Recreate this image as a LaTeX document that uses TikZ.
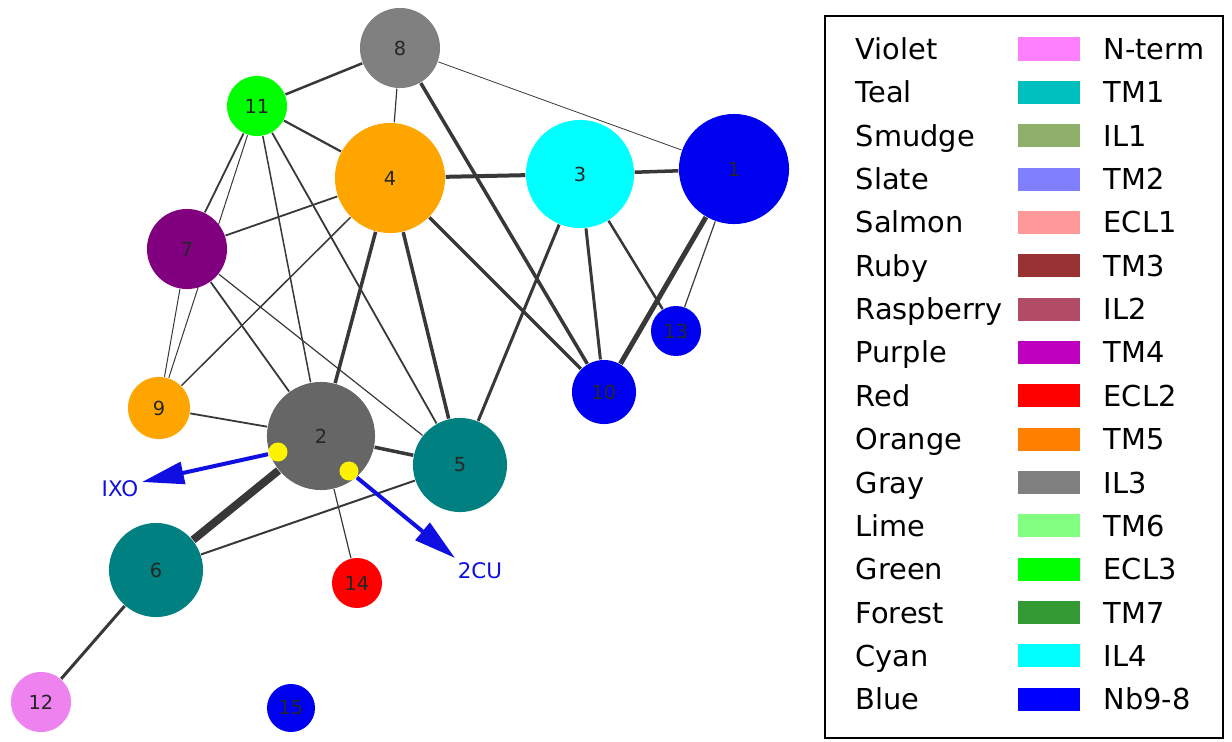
\documentclass[tikz,border=0pt]{standalone}
\usepackage{fontspec}
\setmainfont{DejaVu Sans}
\usetikzlibrary{arrows.meta,backgrounds}

% node colours
\definecolor{ndblue}{RGB}{0,0,240}
\definecolor{ndcyan}{RGB}{0,255,255}
\definecolor{ndorange}{RGB}{255,165,0}
\definecolor{ndteal}{RGB}{0,128,128}
\definecolor{ndpurple}{RGB}{128,0,128}
\definecolor{ndgray}{RGB}{128,128,128}
\definecolor{nddark}{RGB}{102,102,102}
\definecolor{ndlime}{RGB}{0,255,0}
\definecolor{ndred}{RGB}{255,0,0}
\definecolor{ndviolet}{RGB}{238,130,238}
\definecolor{cublue}{RGB}{15,15,225}
% legend colours
\definecolor{lgViolet}{RGB}{255,128,255}
\definecolor{lgTeal}{RGB}{0,191,191}
\definecolor{lgSmudge}{RGB}{142,176,106}
\definecolor{lgSlate}{RGB}{128,128,255}
\definecolor{lgSalmon}{RGB}{255,153,153}
\definecolor{lgRuby}{RGB}{153,51,51}
\definecolor{lgRaspberry}{RGB}{178,76,102}
\definecolor{lgPurple}{RGB}{191,0,191}
\definecolor{lgRed}{RGB}{255,0,0}
\definecolor{lgOrange}{RGB}{255,128,0}
\definecolor{lgGray}{RGB}{128,128,128}
\definecolor{lgLime}{RGB}{128,255,128}
\definecolor{lgGreen}{RGB}{0,255,0}
\definecolor{lgForest}{RGB}{51,153,51}
\definecolor{lgCyan}{RGB}{0,255,255}
\definecolor{lgBlue}{RGB}{0,0,255}

\tikzset{
  res/.style={circle, inner sep=0pt, text=black!85, font=\fontsize{5.5}{6.5}\selectfont},
  link/.style={draw=black!78},
  site/.style={circle, fill=yellow, inner sep=0pt, minimum size=0.19cm},
  pointer/.style={draw=cublue, line width=0.04cm, -{Triangle[length=0.42cm,width=0.22cm]}},
  ligand/.style={text=cublue, inner sep=0pt, font=\fontsize{6.1}{7}\selectfont},
  swatch/.style={minimum width=0.62cm, minimum height=0.23cm, inner sep=0pt},
  lgtext/.style={anchor=base west, inner sep=0pt, font=\fontsize{8.2}{10}\selectfont}
}

\begin{document}
\begin{tikzpicture}[x=0.01cm, y=-0.01cm]
  \useasboundingbox (0,0) rectangle (1232,742);

  % residues
  \foreach \n/\x/\y/\r/\c in {1/734/169/55/ndblue, 2/321/436/54/nddark,
      3/580/174/54/ndcyan, 4/390/178/55/ndorange, 5/460/465/47/ndteal,
      6/156/570/47/ndteal, 7/187/249/40/ndpurple, 8/400/48/40/ndgray,
      9/159/408/31/ndorange, 10/604/392/32/ndblue, 11/257/106/30/ndlime,
      12/41/702/30/ndviolet, 13/676/331/25/ndblue, 14/357/583/25/ndred,
      15/291/708/24/ndblue}{
    \node[res, fill=\c, minimum size=\r*0.02cm] (r\n) at (\x,\y) {\n};
  }

  % contacts
  \begin{scope}[on background layer]
    \foreach \a/\b/\w in {8/11/2.5, 8/4/1.2, 8/1/0.8, 8/10/3.5, 11/4/2.2,
        11/7/1.8, 11/9/1, 11/2/1.5, 11/5/1.8, 4/7/1.8, 4/3/4, 4/9/1.5,
        4/2/3.5, 4/5/3.5, 4/10/3.5, 3/1/3.5, 3/5/3, 3/10/3, 3/13/2.5,
        1/10/5, 1/13/1.2, 7/9/1, 7/2/1.8, 7/5/1.2, 9/2/1.8, 2/5/3.5,
        2/6/8, 2/14/1.2, 5/6/2, 6/12/3}{
      \draw[link, line width=\w*0.01cm] (r\a) -- (r\b);
    }
  \end{scope}

  % ligand sites
  \node[site] (ixosite) at (278,452) {};
  \node[site] (cusite) at (349,471) {};
  \node[ligand] (ixo) at (120,489) {IXO};
  \node[ligand] (cu) at (480,571) {2CU};
  \coordinate (ixotip) at (142,482);
  \coordinate (cutip) at (455,558);
  \draw[pointer] (ixosite) -- (ixotip);
  \draw[pointer] (cusite) -- (cutip);

  % legend
  \draw[line width=0.02cm] (825,16) rectangle (1223,738);
  \foreach \nm/\col/\reg [count=\i from 0, evaluate=\i as \ly using 49+43.35*\i]
      in {Violet/lgViolet/N-term, Teal/lgTeal/TM1, Smudge/lgSmudge/IL1,
      Slate/lgSlate/TM2, Salmon/lgSalmon/ECL1, Ruby/lgRuby/TM3,
      Raspberry/lgRaspberry/IL2, Purple/lgPurple/TM4, Red/lgRed/ECL2,
      Orange/lgOrange/TM5, Gray/lgGray/IL3, Lime/lgLime/TM6,
      Green/lgGreen/ECL3, Forest/lgForest/TM7, Cyan/lgCyan/IL4,
      Blue/lgBlue/Nb9-8}{
    \node[lgtext] (lgname\i) at (855,\ly+10.5) {\nm};
    \node[swatch, fill=\col] (lgkey\i) at (1049,\ly) {};
    \node[lgtext] (lgreg\i) at (1103,\ly+10.5) {\reg};
  }
\end{tikzpicture}
\end{document}
